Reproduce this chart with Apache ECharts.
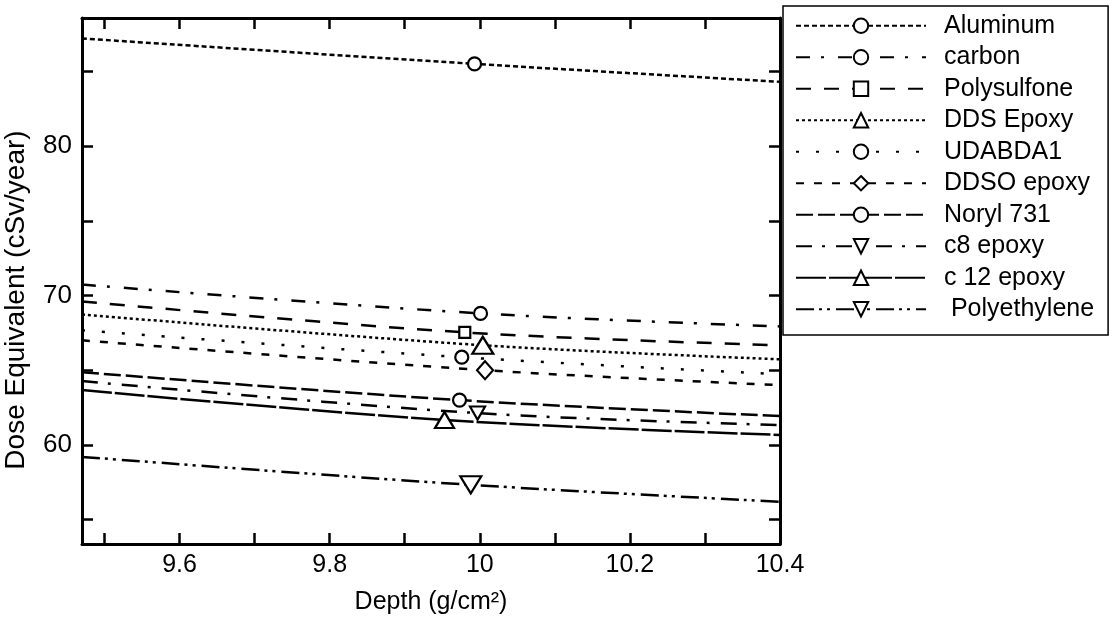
<!DOCTYPE html>
<html>
<head>
<meta charset="utf-8">
<script src="https://cdn.jsdelivr.net/npm/echarts@6/dist/echarts.min.js"></script>
<style>html,body{margin:0;padding:0;background:#fff;}#c{width:1115px;height:620px;}</style>
</head>
<body>
<div id="c"></div>
<script>
// ---- data ----
const seriesNames = ['Aluminum','carbon','Polysulfone','DDS Epoxy','UDABDA1','DDSO epoxy','Noryl 731','c8 epoxy','c 12 epoxy','Polyethylene'];
const depthStart = 9.47;
const depthEnd = 10.4;
const markerDepth = [9.993, 10.001, 9.98, 10.004, 9.976, 10.007, 9.973, 9.997, 9.953, 9.988];
const doseStart  = [87.2, 70.73, 69.6, 68.73, 67.67, 67.0, 64.87, 64.27, 63.67, 59.2];
const doseMarker = [85.5, 68.8, 67.53, 66.67, 65.87, 65.0, 63.0, 62.13, 61.67, 57.33];
const doseEnd    = [84.3, 67.93, 66.67, 65.73, 64.73, 64.0, 61.93, 61.33, 60.67, 56.2];
const xTickValues = [9.5, 9.6, 9.7, 9.8, 9.9, 10, 10.1, 10.2, 10.3];
const xLabelValues = [9.6, 9.8, 10, 10.2, 10.4];
const yTickValues = [55, 60, 65, 70, 75, 80, 85];
const yLabelValues = [60, 70, 80];
const xMin = 9.47, xMax = 10.4, yMin = 53.37, yMax = 88.57;

// ---- styles ----
const dashes = [[5,3],[14,11,3,14],[15,13],[3,3],[3,17],[8,10],[17,5],[16,10,3,11],[30,3],[18,5,3,5,3,6]];
const symbols = ['circle','circle','rect','triangle','circle','diamond','circle','triangle','triangle','triangle'];
const symbolRot = [0,0,0,0,0,0,0,180,0,180];
const symbolSizes = [13,13,11,[21,17],13,[16,18],13,[15,13],[19,16],[21,17]];
const FONT = '"Liberation Sans", Arial, sans-serif';

const series = seriesNames.map((name, i) => ({
  name: name,
  type: 'line',
  smooth: 0.35,
  color: '#000',
  symbol: symbols[i],
  symbolRotate: symbolRot[i],
  symbolSize: symbolSizes[i],
  showSymbol: true,
  showAllSymbol: true,
  lineStyle: {color: '#000', width: 2.5, type: dashes[i]},
  itemStyle: {color: '#fff', borderColor: '#000', borderWidth: 2.2},
  emphasis: {disabled: true},
  z: 3,
  data: [
    {value: [depthStart, doseStart[i]], symbol: 'none'},
    {value: [markerDepth[i], doseMarker[i]]},
    {value: [depthEnd, doseEnd[i]], symbol: 'none'}
  ]
}));

const axisLine = {show: true, onZero: false, lineStyle: {color: '#000', width: 3}};

const chart = echarts.init(document.getElementById('c'), null, {renderer: 'canvas'});
chart.setOption({
  animation: false,
  backgroundColor: '#fff',
  grid: {left: 82, right: 335, top: 18, bottom: 75, containLabel: false},
  xAxis: [{
    type: 'value', min: xMin, max: xMax, position: 'bottom',
    name: 'Depth (g/cm²)', nameLocation: 'middle', nameGap: 46,
    nameTextStyle: {fontFamily: FONT, fontSize: 25, color: '#000'},
    axisLine: axisLine,
    axisTick: {show: true, inside: true, length: 11, customValues: xTickValues, lineStyle: {color: '#000', width: 2.5}},
    axisLabel: {show: true, customValues: xLabelValues, margin: 9, fontFamily: FONT, fontSize: 25, color: '#000',
      formatter: v => String(+v.toFixed(2))},
    splitLine: {show: false}
  }, {
    type: 'value', min: xMin, max: xMax, position: 'top',
    axisLine: axisLine,
    axisTick: {show: true, inside: true, length: 11, customValues: xTickValues, lineStyle: {color: '#000', width: 2.5}},
    axisLabel: {show: false},
    splitLine: {show: false}
  }],
  yAxis: [{
    type: 'value', min: yMin, max: yMax, position: 'left',
    axisLine: axisLine,
    axisTick: {show: true, inside: true, length: 11, customValues: yTickValues, lineStyle: {color: '#000', width: 2.5}},
    axisLabel: {show: true, customValues: yLabelValues, margin: 10, fontFamily: FONT, fontSize: 26, color: '#000'},
    splitLine: {show: false}
  }, {
    type: 'value', min: yMin, max: yMax, position: 'right',
    axisLine: axisLine,
    axisTick: {show: true, inside: true, length: 11, customValues: yTickValues, lineStyle: {color: '#000', width: 2.5}},
    axisLabel: {show: false},
    splitLine: {show: false}
  }],
  legend: {
    orient: 'vertical',
    left: 783, top: 6,
    padding: [4, 14, 10, 12],
    itemGap: 0,
    itemWidth: 130,
    itemHeight: 18,
    backgroundColor: '#fff',
    borderColor: '#000',
    borderWidth: 1.5,
    borderRadius: 0,
    selectedMode: false,
    formatter: n => n === 'Polyethylene' ? ' ' + n : n,
    textStyle: {fontFamily: FONT, fontSize: 25, color: '#000', lineHeight: 31.5, padding: [0, 0, 0, 13]},
    data: seriesNames
  },
  graphic: [{
    type: 'text', x: 16, y: 300, rotation: Math.PI / 2,
    style: {text: 'Dose Equivalent (cSv/year)', font: '28px ' + FONT, fill: '#000', align: 'center', verticalAlign: 'middle'}
  }],
  series: series
});
</script>
</body>
</html>
